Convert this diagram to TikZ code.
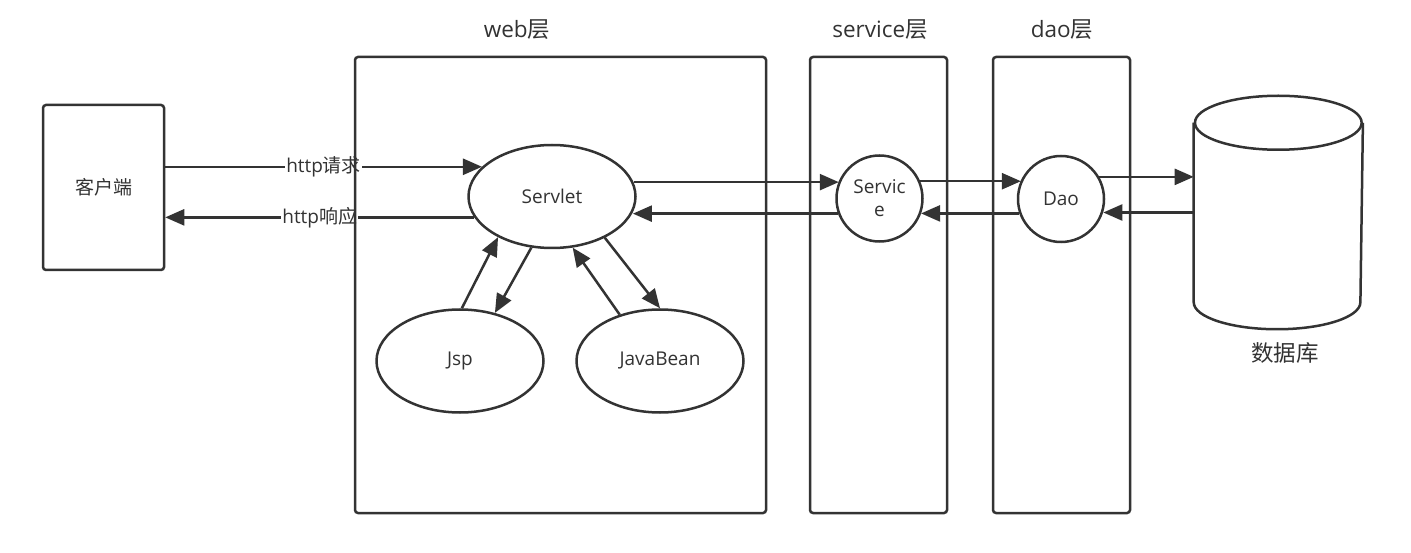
\documentclass[tikz,border=0pt]{standalone}
\usepackage{fontspec}
\setmainfont{Open Sans}
\newfontfamily\cjk{Noto Sans CJK SC}
\usetikzlibrary{arrows.meta,shapes.geometric}
\definecolor{inkgray}{HTML}{333333}
\newcommand{\zh}[1]{{\cjk #1}}
\newcommand{\nodefont}{\fontsize{19}{23}\selectfont}
\newcommand{\titlefont}{\fontsize{22.5}{26}\selectfont}

\begin{document}
\begin{tikzpicture}[
  x=1pt,y=-1pt,>={Triangle[length=19pt,width=16pt]},
  line width=2.5pt,color=inkgray,
  frame/.style={draw,rounded corners=3pt,inner sep=0pt},
  oval/.style={draw,ellipse,inner sep=0pt,minimum width=167pt,minimum height=103pt,font=\nodefont},
  ball/.style={draw,circle,inner sep=0pt,minimum size=86pt,align=center,font=\nodefont},
  tag/.style={font=\nodefont,fill=white,inner sep=1pt},
  title/.style={font=\titlefont}
]
\fill[white] (0,0) rectangle (1411,553);
% client and web layer
\node[frame,minimum width=121pt,minimum height=165pt,font=\nodefont] (client) at (103.5,187.5) {\zh{客户端}};
\node[oval] (servlet) at (552,196.5) {Servlet};
\node[oval] (jsp) at (460,361) {Jsp};
\node[oval] (bean) at (660,361) {JavaBean};
% service, dao, database
\node[ball] (svc) at (879.5,198.5) {Servic\\e};
\node[ball] (dao) at (1061,199) {Dao};
\node[minimum width=166.7pt,minimum height=231pt,inner sep=0pt] (db) at (1278.3,212.5) {};
\draw ([yshift=-27pt]db.north west) -- ([yshift=27pt]db.south west)
  arc[start angle=180,end angle=360,x radius=83.35pt,y radius=27pt] -- ([yshift=-27pt]db.north east);
\draw ([yshift=-27pt]db.north) ellipse[x radius=83.35pt,y radius=27pt];
\node[title] (dbname) at (1285,353) {\zh{数据库}};
% connectors
\draw[->] (client.east |- servlet.157) -- (servlet.157) node[tag,midway] {http\zh{请求}};
\draw[->] (servlet.195) -- (servlet.195 -| client.east) node[tag,midway] {http\zh{响应}};
\foreach \a/\b in {jsp.88/servlet.217,servlet.248/jsp.54,bean.131/servlet.292,servlet.322/bean.90}
  {\draw[->] (\a) -- (\b);}
\foreach \a/\b in {servlet.10/svc.157,svc.23/dao.155,dao.30/db.west,
                   svc.200/servlet.349,dao.199/svc.340,db.west/dao.343}
  {\draw[->] (\a) -- (\a -| \b);}
% layer frames on top
\node[frame,minimum width=411pt,minimum height=456pt] (web) at (560.5,285) {};
\node[frame,minimum width=137pt,minimum height=456pt] (service) at (878.5,285) {};
\node[frame,minimum width=137pt,minimum height=456pt] (daolayer) at (1061.5,285) {};
\node[title] (webname) at (517,30) {web\zh{层}};
\node[title] (servicename) at (880,30) {service\zh{层}};
\node[title] (daoname) at (1062,30) {dao\zh{层}};
\end{tikzpicture}
\end{document}
